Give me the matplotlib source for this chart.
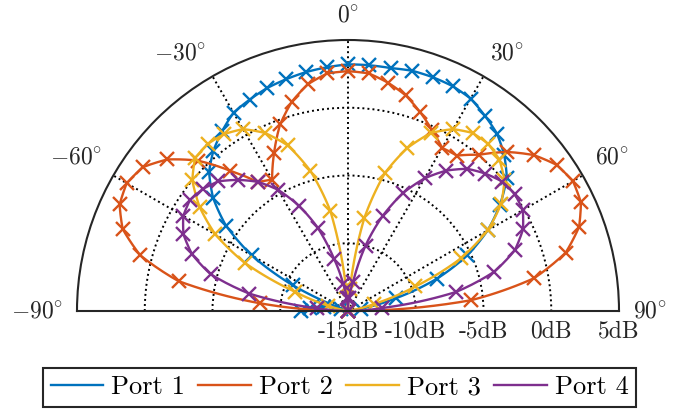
import numpy as np
import matplotlib.pyplot as plt
from matplotlib.transforms import offset_copy

plt.rcParams['font.family'] = 'cmr10'
plt.rcParams['mathtext.fontset'] = 'cm'
plt.rcParams['axes.unicode_minus'] = False

# angles (deg, clockwise from broadside) and gains in dB, read every 5 deg
theta_deg = [-90, -85, -80, -75, -70, -65, -60, -55, -50, -45, -40, -35, -30,
             -25, -20, -15, -10, -5, 0, 5, 10, 15, 20, 25, 30, 35, 40, 45,
             50, 55, 60, 65, 70, 75, 80, 85, 90]

port1 = [-11.5, -12.2, -13.2, -14.5, -15.0, -10.5, -6.8, -4.0, -2.0, -0.5,
         0.45, 1.2, 1.9, 2.2, 2.5, 2.7, 2.9, 3.05, 3.2, 3.2, 3.2, 3.35, 3.35,
         3.3, 3.1, 2.6, 2.1, 1.3, 0.3, -1.3, -3.1, -5.3, -8.0, -11.3, -14.0,
         -15.0, -15.0]
port2 = [-15.0, -8.5, -2.3, 0.87, 2.7, 3.6, 3.86, 3.5, 2.4, 0.7, -1.5, -3.4,
         -3.8, -2.1, -0.35, 1.0, 2.0, 2.6, 2.7, 2.6, 2.1, 1.47, 0.6, -0.3,
         -1.1, -1.0, 0.05, 1.6, 2.9, 3.8, 4.17, 3.97, 3.15, 1.63, -1.05, -5.9,
         -15.0]
port3 = [-15.0, -15.0, -15.0, -13.5, -10.8, -6.6, -3.7, -1.64, 0.0, 0.96,
         1.1, 0.94, 0.5, -0.5, -2.0, -4.3, -7.5, -13.2, -15.0, -13.4, -8.0,
         -4.45, -2.2, -0.5, 0.5, 1.04, 1.1, 0.8, 0.07, -1.2, -3.1, -5.8, -9.7,
         -13.0, -15.0, -15.0, -15.0]
port4 = [-15.0, -12.7, -7.6, -4.5, -2.75, -1.6, -0.96, -0.75, -1.0, -1.47,
         -2.37, -3.36, -4.67, -6.44, -8.45, -11.0, -13.0, -14.0, -15.0, -14.0,
         -12.8, -10.0, -7.55, -5.4, -3.7, -2.35, -1.3, -0.66, -0.14, 0.03,
         -0.1, -0.75, -1.9, -3.84, -6.9, -12.5, -15.0]

names = ['Port 1', 'Port 2', 'Port 3', 'Port 4']
colors = ['#0072BD', '#D95319', '#EDB120', '#7E2F8E']

theta_ticks = [-90, -60, -30, 0, 30, 60, 90]
theta_labels = [r'$-90\!^\circ$', r'$-60\!^\circ$', r'$-30\!^\circ$', r'$0\!^\circ$',
                r'$30\!^\circ$', r'$60\!^\circ$', r'$90\!^\circ$']
r_ticks = [-15, -10, -5, 0, 5]
r_labels = ['-15dB', '-10dB', '-5dB', '0dB', '5dB']

fig = plt.figure(figsize=(6.88, 4.16), dpi=100)
# square box; the half disk sits in its middle
ax = fig.add_axes([77 / 688, -30.5 / 416, 542 / 688, 542 / 416], projection='polar')
ax.set_theta_zero_location('N')
ax.set_theta_direction(-1)
ax.set_thetamin(-90)
ax.set_thetamax(90)
ax.set_rlim(-15, 5)

th = np.deg2rad(theta_deg)
for r, c, lab in zip([port1, port2, port3, port4], colors, names):
    ln, = ax.plot(th, r, color=c, lw=1.7, label=lab, clip_on=False)
    ln.get_path()._interpolation_steps = 10  # follow the polar grid between samples
    ax.plot(th, r, ls='none', marker='x', ms=10, mew=1.7, color=c, clip_on=False)

ax.set_thetagrids(theta_ticks, labels=[''] * len(theta_ticks))
ax.set_rgrids([-10, -5, 0], labels=['', '', ''])
ax.set_rlim(-15, 5)
ax.grid(True, color='k', linestyle=(0, (1, 1.6)), linewidth=1.4)
for s in ['polar', 'start', 'end']:
    ax.spines[s].set_color('#262626')
    ax.spines[s].set_linewidth(1.5)

# angle labels, anchored by the corner nearest the rim (like MATLAB)
gap = 10
for t, lab in zip(theta_ticks, theta_labels):
    a = np.deg2rad(t)
    tr = offset_copy(ax.transData, fig=fig, x=gap * np.sin(a), y=gap * np.cos(a),
                     units='points')
    ha = 'right' if t < 0 else ('left' if t > 0 else 'center')
    va = 'center' if abs(t) == 90 else 'bottom'
    ax.text(a, 5, lab, transform=tr, ha=ha, va=va, fontsize=17, color='#262626')

trans = offset_copy(ax.transData, fig=fig, y=-7, units='points')
for r, lab in zip(r_ticks, r_labels):
    ax.text(np.deg2rad(90), r, lab, transform=trans, ha='center', va='top',
            fontsize=17, color='#262626')

leg = fig.legend(loc='center', bbox_to_anchor=(0.4935, 0.0685), ncol=4,
                 fontsize=19, frameon=True, fancybox=False, edgecolor='#262626',
                 framealpha=1, handlelength=2.0, handletextpad=0.3,
                 columnspacing=0.5, borderpad=0.3)
leg.get_frame().set_linewidth(1.5)

fig.savefig('out.png', dpi=100)
